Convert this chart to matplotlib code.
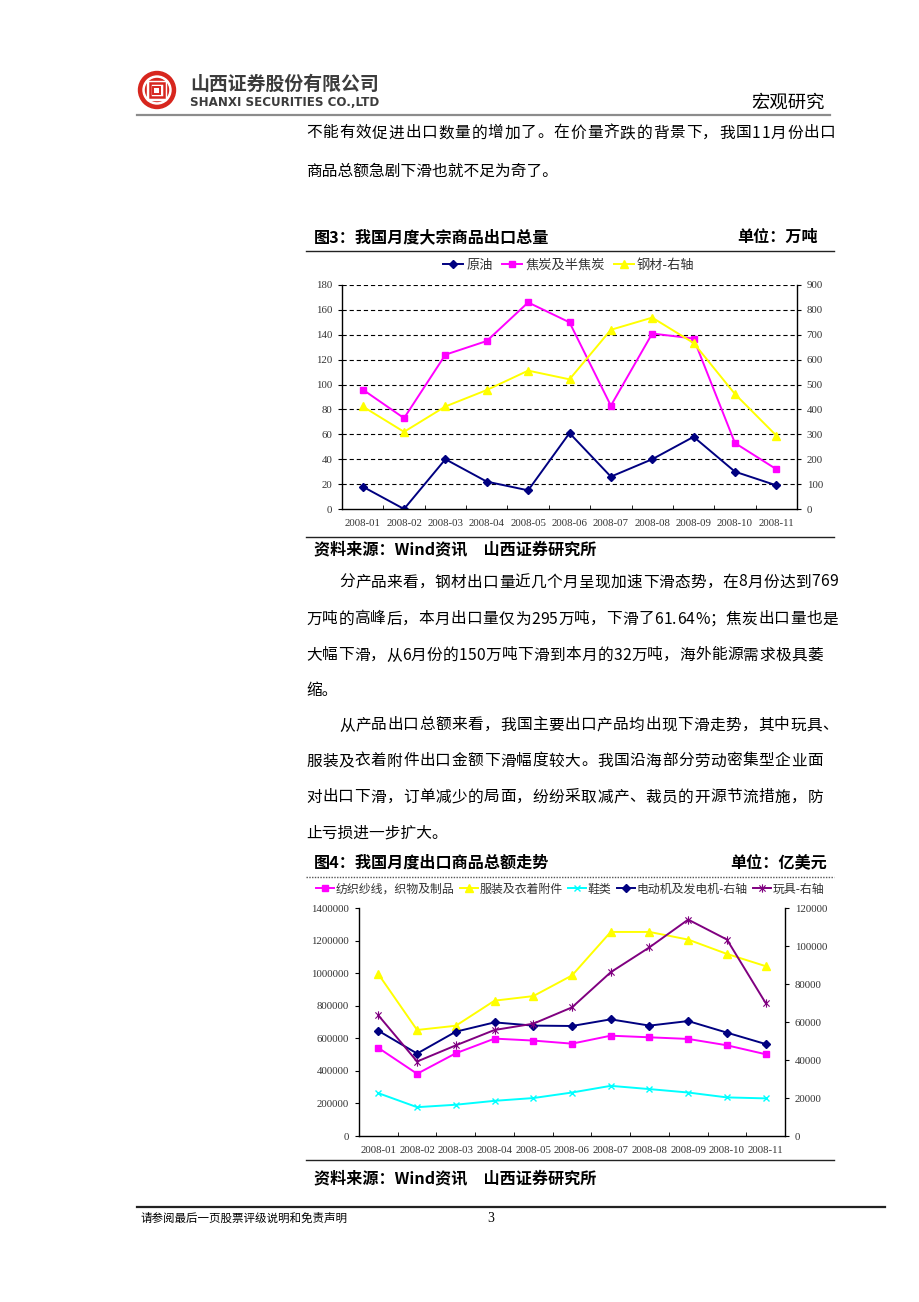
import matplotlib.pyplot as plt
import numpy as np
from matplotlib.patches import Circle, Rectangle
from matplotlib.path import Path
from matplotlib.font_manager import FontProperties

plt.rcParams['font.family'] = ['Noto Sans CJK SC', 'DejaVu Sans']

months = ['2008-01', '2008-02', '2008-03', '2008-04', '2008-05', '2008-06',
          '2008-07', '2008-08', '2008-09', '2008-10', '2008-11']

# fig 3: bulk commodity exports (10k tons)
crude_oil = [18, 0, 40, 22, 15, 61, 26, 40, 58, 30, 19]
coke = [96, 73, 124, 135, 166, 150, 83, 141, 137, 53, 32]
steel = [412, 310, 412, 478, 556, 521, 720, 769, 667, 462, 295]   # right axis

# fig 4: export value by product
textiles = [541000, 382000, 508000, 598000, 586000, 567000, 616000, 606000, 596000, 557000, 502000]
apparel = [994000, 651000, 677000, 831000, 859000, 986000, 1253000, 1253000, 1206000, 1118000, 1043000]
footwear = [263000, 177000, 192000, 216000, 233000, 267000, 308000, 288000, 267000, 237000, 231000]
motors = [55400, 43400, 54900, 59800, 58100, 57900, 61400, 58100, 60500, 54400, 48400]   # right axis
toys = [63500, 39200, 47700, 55800, 59100, 67700, 86200, 99300, 113900, 103400, 70000]   # right axis

W, H = 920, 1302
fig = plt.figure(figsize=(W / 100, H / 100), dpi=100)


def box(x0, y0, x1, y1):
    return [x0 / W, 1 - y1 / H, (x1 - x0) / W, (y1 - y0) / H]


# page layer in pixel coordinates
page = fig.add_axes([0, 0, 1, 1])
page.set_xlim(0, W)
page.set_ylim(H, 0)
page.axis('off')

# logo
red = '#d7261e'
page.add_patch(Circle((157, 90), 18.5, color=red))
page.add_patch(Circle((157, 90), 14, color='white'))
page.add_patch(Circle((157, 90), 11.5, color=red))
page.add_patch(Rectangle((147.5, 80.5), 19, 19, color='white'))
page.add_patch(Rectangle((150, 83), 14, 14, fill=False, ec=red, lw=1.8))
page.add_patch(Rectangle((153.5, 86.5), 7, 7, fill=False, ec=red, lw=1.4))

page.text(190, 84, '山西证券股份有限公司', fontsize=13.6, fontweight='bold',
          color='#3c3c3c', va='center', ha='left')
page.text(190, 102, 'SHANXI SECURITIES CO.,LTD', fontsize=8.6, fontweight='bold',
          color='#3c3c3c', va='center', ha='left', family='DejaVu Sans')
page.text(825, 103, '宏观研究', fontsize=13.2, va='center', ha='right')
page.plot([137, 830], [115, 115], color='#8c8c8c', lw=1.6)

# body text, justified like the Word page
body = 11.3
renderer = fig.canvas.get_renderer()
prop = FontProperties(family=['Noto Sans CJK SC', 'DejaVu Sans'], size=body)


def text_w(s):
    return renderer.get_text_width_height_descent(s, prop, ismath=False)[0]


def put_line(x0, y, s, x1=None):
    if x1 is None:
        page.text(x0, y, s, fontsize=body, va='center', ha='left')
        return
    ref = text_w('口')
    pos = [text_w(s[:i] + '口') - ref if i else 0 for i in range(len(s))]
    gap = (x1 - x0 - text_w(s)) / (len(s) - 1)
    for i, c in enumerate(s):
        page.text(x0 + pos[i] + gap * i, y, c, fontsize=body, va='center', ha='left')


lines = [
    (306, 133, '不能有效促进出口数量的增加了。在价量齐跌的背景下，我国11月份出口', 836),
    (306, 171, '商品总额急剧下滑也就不足为奇了。', None),
    (339, 582, '分产品来看，钢材出口量近几个月呈现加速下滑态势，在8月份达到769', 838),
    (306, 619, '万吨的高峰后，本月出口量仅为295万吨，下滑了61.64%；焦炭出口量也是', 838),
    (306, 655, '大幅下滑，从6月份的150万吨下滑到本月的32万吨，海外能源需求极具萎', 823),
    (306, 691, '缩。', None),
    (339, 725, '从产品出口总额来看，我国主要出口产品均出现下滑走势，其中玩具、', 838),
    (306, 761, '服装及衣着附件出口金额下滑幅度较大。我国沿海部分劳动密集型企业面', 823),
    (306, 797, '对出口下滑，订单减少的局面，纷纷采取减产、裁员的开源节流措施，防', 823),
    (306, 833, '止亏损进一步扩大。', None),
]
for lx, ly, s, rx in lines:
    put_line(lx, ly, s, rx)

# titles, rules, sources
page.text(314, 237, '图3：我国月度大宗商品出口总量', fontsize=11.6, fontweight='bold', va='center')
page.text(818, 237, '单位：万吨', fontsize=11.6, fontweight='bold', va='center', ha='right')
page.plot([306, 834], [251, 251], color='#222222', lw=1)
page.plot([306, 834], [537, 537], color='#222222', lw=1)
page.text(314, 549, '资料来源：Wind资讯　山西证券研究所', fontsize=11.6, fontweight='bold', va='center')

page.text(314, 863, '图4：我国月度出口商品总额走势', fontsize=11.6, fontweight='bold', va='center')
page.text(827, 863, '单位：亿美元', fontsize=11.6, fontweight='bold', va='center', ha='right')
page.plot([306, 834], [877, 877], color='#555555', lw=1, ls=(0, (1, 1)))
page.plot([306, 834], [1160, 1160], color='#222222', lw=1)
page.text(314, 1178, '资料来源：Wind资讯　山西证券研究所', fontsize=11.6, fontweight='bold', va='center')

page.plot([137, 885], [1207, 1207], color='#222222', lw=1.6)
page.text(140, 1218, '请参阅最后一页股票评级说明和免责声明', fontsize=8.3, va='center')
page.text(487, 1218, '3', fontsize=10, va='center', family='Liberation Serif')

tick_font = dict(family='Liberation Serif', size=7.8)
x = np.arange(len(months))


def style_pair(ax, axr):
    for s in ['top', 'right']:
        ax.spines[s].set_visible(False)
    for s in ['top', 'left', 'bottom']:
        axr.spines[s].set_visible(False)
    for sp in [ax.spines['left'], ax.spines['bottom'], axr.spines['right']]:
        sp.set_linewidth(1.0)
    ax.set_xlim(-0.5, 10.5)
    ax.set_xticks(x)
    ax.set_xticklabels(months)
    ax.set_xticks(np.arange(0.5, 10, 1), minor=True)
    ax.tick_params(axis='x', which='major', length=0, pad=7)
    ax.tick_params(axis='x', which='minor', direction='in', length=3)
    ax.tick_params(axis='y', direction='out', length=3, pad=4)
    axr.tick_params(axis='y', direction='out', length=3, pad=4)
    for lab in ax.get_xticklabels() + ax.get_yticklabels() + axr.get_yticklabels():
        lab.set_fontfamily(tick_font['family'])
        lab.set_fontsize(tick_font['size'])
        lab.set_color('#333333')


# chart 1
ax1 = fig.add_axes(box(342, 285, 797, 509))
ax1.set_ylim(0, 180)
ax1.set_yticks(range(0, 181, 20))
for yv in range(20, 181, 20):
    ax1.axhline(yv, color='black', lw=0.8, dashes=(3.8, 2.6), zorder=0)
l1, = ax1.plot(x, crude_oil, color='#000080', marker='D', ms=4.2, lw=1.4, label='原油')
l2, = ax1.plot(x, coke, color='#ff00ff', marker='s', ms=5, lw=1.4, label='焦炭及半焦炭')
ax1r = ax1.twinx()
l3, = ax1r.plot(x, steel, color='#ffff00', marker='^', ms=5.5, lw=1.4, label='钢材-右轴')
ax1r.set_ylim(0, 900)
ax1r.set_yticks(range(0, 901, 100))
style_pair(ax1, ax1r)
fig.legend([l1, l2, l3], ['原油', '焦炭及半焦炭', '钢材-右轴'], loc='center',
           bbox_to_anchor=(569 / W, 1 - 265 / H), ncol=3, frameon=False,
           fontsize=9.5, handlelength=1.5, handletextpad=0.25, columnspacing=0.7,
           labelcolor='#333333')

# chart 2
ax2 = fig.add_axes(box(359, 908, 785, 1136))
ax2.set_ylim(0, 1400000)
ax2.set_yticks(range(0, 1400001, 200000))
ax2.set_yticklabels([str(v) for v in range(0, 1400001, 200000)])
m1, = ax2.plot(x, textiles, color='#ff00ff', marker='s', ms=5, lw=1.4)
m2, = ax2.plot(x, apparel, color='#ffff00', marker='^', ms=5.5, lw=1.4)
m3, = ax2.plot(x, footwear, color='#00ffff', marker='x', ms=5, mew=1, lw=1.4)
ax2r = ax2.twinx()
star = Path([(0, -1), (0, 1), (-0.75, -0.75), (0.75, 0.75), (-0.75, 0.75), (0.75, -0.75)],
            [Path.MOVETO, Path.LINETO, Path.MOVETO, Path.LINETO, Path.MOVETO, Path.LINETO])
m4, = ax2r.plot(x, motors, color='#000080', marker='D', ms=4.2, lw=1.4)
m5, = ax2r.plot(x, toys, color='#800080', marker=star, ms=6, mew=0.8, mfc='none', lw=1.4)
ax2r.set_ylim(0, 120000)
ax2r.set_yticks(range(0, 120001, 20000))
ax2r.set_yticklabels([str(v) for v in range(0, 120001, 20000)])
style_pair(ax2, ax2r)
fig.legend([m1, m2, m3, m4, m5],
           ['纺织纱线，织物及制品', '服装及衣着附件', '鞋类', '电动机及发电机-右轴', '玩具-右轴'],
           loc='center', bbox_to_anchor=(570 / W, 1 - 889 / H), ncol=5, frameon=False,
           fontsize=8.6, handlelength=1.5, handletextpad=0.15, columnspacing=0.45,
           labelcolor='#333333')

plt.savefig('out.png', dpi=100)
